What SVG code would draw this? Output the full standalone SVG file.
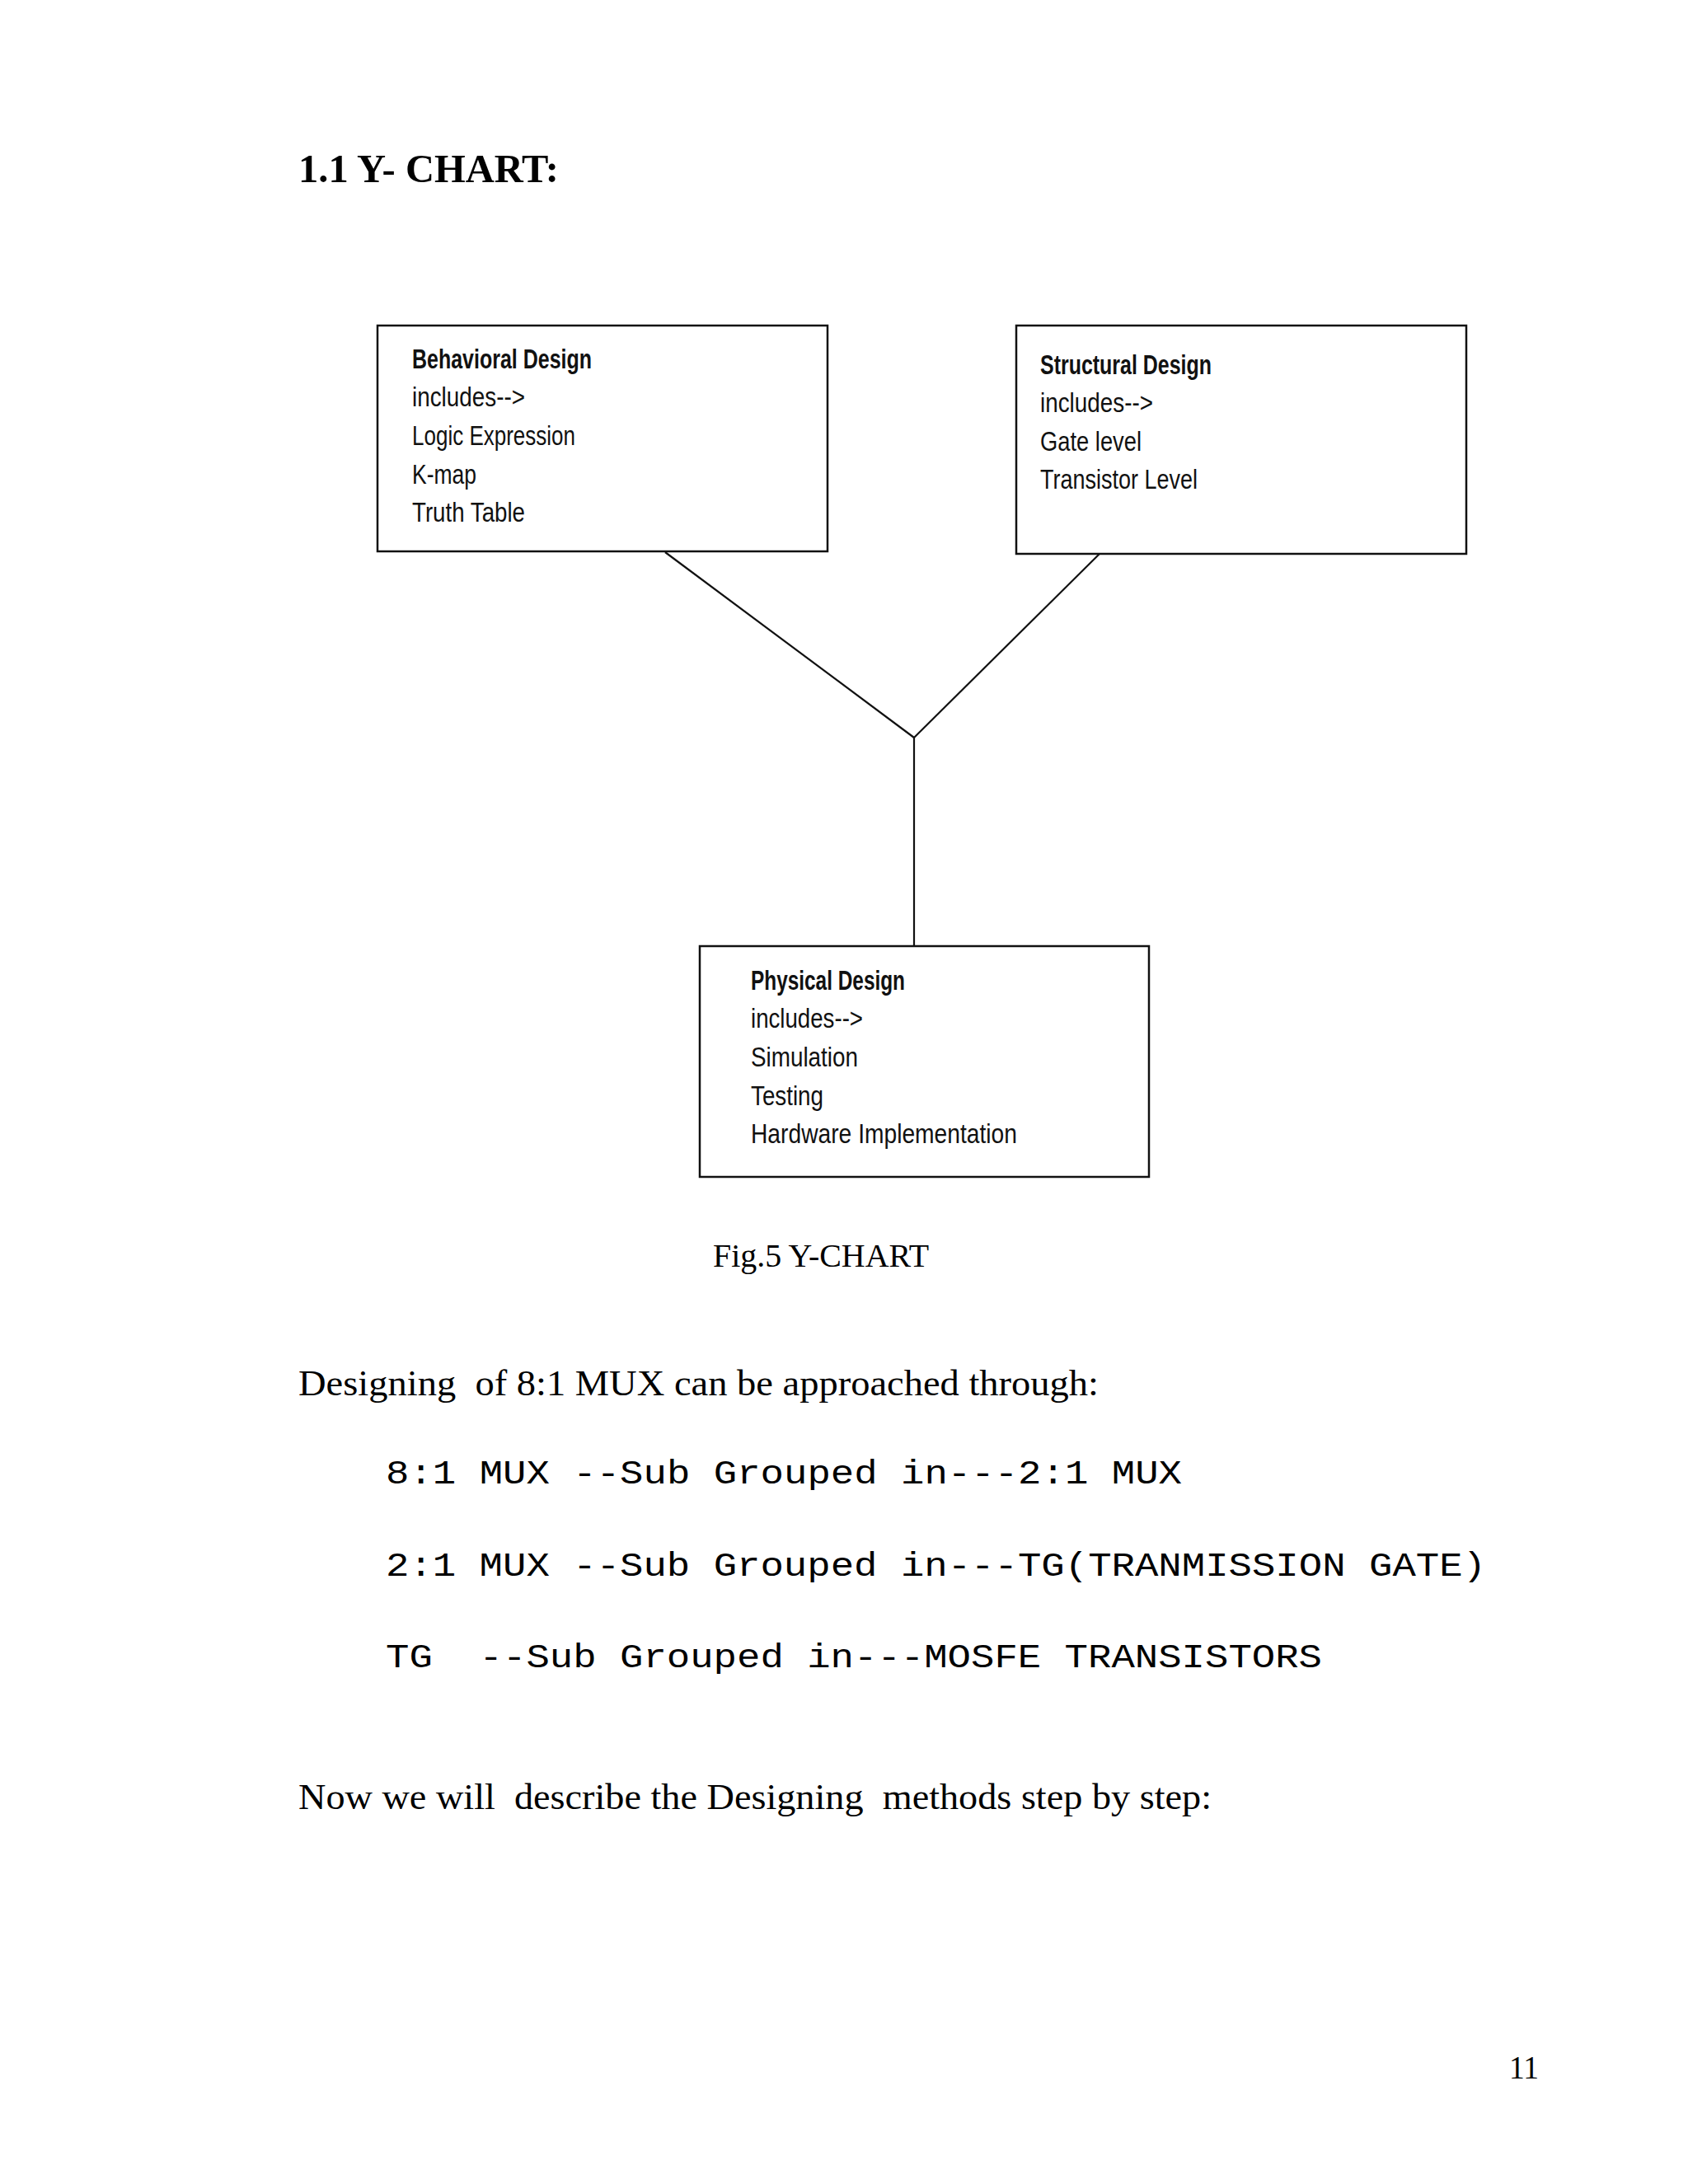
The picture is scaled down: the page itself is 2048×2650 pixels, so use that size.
<svg xmlns="http://www.w3.org/2000/svg" width="2048" height="2650" viewBox="0 0 2048 2650">
<style>
.box{fill:#fff;stroke:#111;stroke-width:2.5}
.conn{stroke:#111;stroke-width:2.2;fill:none}
.bt{font-family:"Liberation Sans Narrow","Liberation Sans",Arial,sans-serif;font-size:33px;fill:#111}
.bh{font-weight:bold}
.serif{font-family:"Liberation Serif","Times New Roman",serif;fill:#000}
.mono{font-family:"Liberation Mono","Courier New",monospace;font-size:41px;fill:#000}
</style>
<rect width="2048" height="2650" fill="#fff"/>
<text class="serif" x="362" y="221" font-size="48" font-weight="bold" textLength="316" lengthAdjust="spacingAndGlyphs">1.1 Y- CHART:</text>

<g id="connectors">
<line class="conn" x1="807" y1="670" x2="1109" y2="895"/>
<line class="conn" x1="1334" y1="672" x2="1109" y2="895"/>
<line class="conn" x1="1109" y1="895" x2="1109" y2="1148"/>
</g>

<g id="behavioral">
<rect class="box" x="458" y="395" width="546" height="274"/>
<text class="bt bh" x="500" y="447" textLength="218" lengthAdjust="spacingAndGlyphs">Behavioral Design</text>
<text class="bt" x="500" y="493" textLength="137" lengthAdjust="spacingAndGlyphs">includes--&gt;</text>
<text class="bt" x="500" y="540" textLength="198" lengthAdjust="spacingAndGlyphs">Logic Expression</text>
<text class="bt" x="500" y="587" textLength="78" lengthAdjust="spacingAndGlyphs">K-map</text>
<text class="bt" x="500" y="633" textLength="137" lengthAdjust="spacingAndGlyphs">Truth Table</text>
</g>

<g id="structural">
<rect class="box" x="1233" y="395" width="546" height="277"/>
<text class="bt bh" x="1262" y="454" textLength="208" lengthAdjust="spacingAndGlyphs">Structural Design</text>
<text class="bt" x="1262" y="500" textLength="137" lengthAdjust="spacingAndGlyphs">includes--&gt;</text>
<text class="bt" x="1262" y="547" textLength="123" lengthAdjust="spacingAndGlyphs">Gate level</text>
<text class="bt" x="1262" y="593" textLength="191" lengthAdjust="spacingAndGlyphs">Transistor Level</text>
</g>

<g id="physical">
<rect class="box" x="849" y="1148" width="545" height="280"/>
<text class="bt bh" x="911" y="1201" textLength="187" lengthAdjust="spacingAndGlyphs">Physical Design</text>
<text class="bt" x="911" y="1247" textLength="136" lengthAdjust="spacingAndGlyphs">includes--&gt;</text>
<text class="bt" x="911" y="1294" textLength="130" lengthAdjust="spacingAndGlyphs">Simulation</text>
<text class="bt" x="911" y="1341" textLength="88" lengthAdjust="spacingAndGlyphs">Testing</text>
<text class="bt" x="911" y="1387" textLength="323" lengthAdjust="spacingAndGlyphs">Hardware Implementation</text>
</g>

<text class="serif" x="865" y="1537" font-size="41" textLength="262" lengthAdjust="spacingAndGlyphs">Fig.5 Y-CHART</text>

<text class="serif" x="362" y="1693" font-size="45" textLength="971" lengthAdjust="spacingAndGlyphs" xml:space="preserve">Designing  of 8:1 MUX can be approached through:</text>

<text class="mono" x="468" y="1800" textLength="966" lengthAdjust="spacingAndGlyphs" xml:space="preserve">8:1 MUX --Sub Grouped in---2:1 MUX</text>
<text class="mono" x="468" y="1912" textLength="1335" lengthAdjust="spacingAndGlyphs" xml:space="preserve">2:1 MUX --Sub Grouped in---TG(TRANMISSION GATE)</text>
<text class="mono" x="468" y="2023" textLength="1136" lengthAdjust="spacingAndGlyphs" xml:space="preserve">TG  --Sub Grouped in---MOSFE TRANSISTORS</text>

<text class="serif" x="362" y="2195" font-size="45" textLength="1108" lengthAdjust="spacingAndGlyphs" xml:space="preserve">Now we will  describe the Designing  methods step by step:</text>

<text class="serif" x="1831" y="2522" font-size="41" textLength="36" lengthAdjust="spacingAndGlyphs">11</text>
</svg>
